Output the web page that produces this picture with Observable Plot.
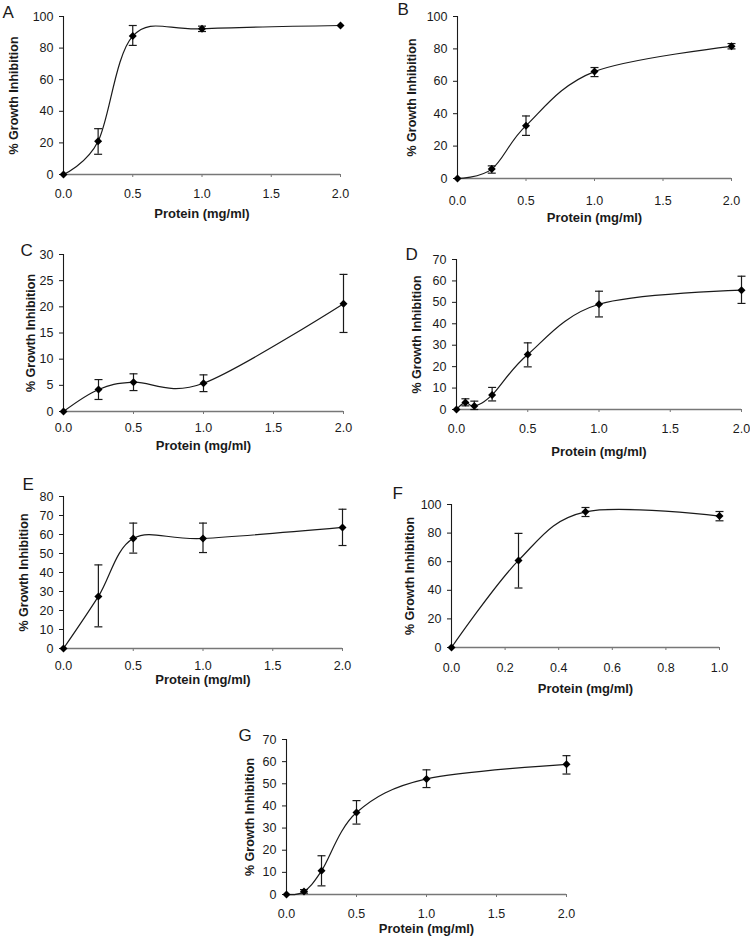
<!DOCTYPE html>
<html><head><meta charset="utf-8">
<script src="https://cdn.jsdelivr.net/npm/d3@7"></script>
<script src="https://cdn.jsdelivr.net/npm/@observablehq/plot@0.6"></script>
<style>
body{margin:0;background:#fff;}
#root{position:relative;width:750px;height:940px;overflow:hidden;background:#fff;}
.panel{position:absolute;}
</style></head><body><div id="root"></div>
<script>
// ---------- text ----------
const xLabel = "Protein (mg/ml)";
const yLabel = "% Growth Inhibition";
const panelLetters = ["A", "B", "C", "D", "E", "F", "G"];

// ---------- data (dose mg/ml, mean % inhibition, error low, error high) ----------
const aDose = [0, 0.25, 0.5, 1, 2];
const aMean = [0, 21, 87.6, 92.2, 94.3];
const aLow  = [null, 12.8, 81.7, 90.5, null];
const aHigh = [null, 29, 94.3, 93.9, null];

const bDose = [0, 0.25, 0.5, 1, 2];
const bMean = [0, 5.8, 32.6, 66, 81.6];
const bLow  = [null, 3.3, 26.6, 62.9, 80];
const bHigh = [null, 7.8, 38.6, 68.5, 83.3];

const cDose = [0, 0.25, 0.5, 1, 2];
const cMean = [0, 4.2, 5.6, 5.4, 20.6];
const cLow  = [null, 2.3, 4.0, 3.8, 15.1];
const cHigh = [null, 6.1, 7.2, 7.0, 26.2];

const dDose = [0, 0.0625, 0.125, 0.25, 0.5, 1, 2];
const dMean = [0, 3.3, 1.6, 6.8, 25.7, 49.1, 55.7];
const dLow  = [null, 1.7, 0, 4.0, 19.9, 43.2, 49.5];
const dHigh = [null, 5.0, 3.9, 10.3, 31.1, 55.2, 62.2];

const eDose = [0, 0.25, 0.5, 1, 2];
const eMean = [0, 27.4, 57.9, 57.9, 63.7];
const eLow  = [null, 11.4, 50.2, 50.5, 54.2];
const eHigh = [null, 44, 66, 66, 73.3];

const fDose = [0, 0.25, 0.5, 1];
const fMean = [0, 60.9, 94.9, 91.9];
const fLow  = [null, 41.6, 91.6, 88.6];
const fHigh = [null, 79.8, 97.9, 95.1];

const gDose = [0, 0.125, 0.25, 0.5, 1, 2];
const gMean = [0, 1.4, 10.7, 37, 52.2, 58.8];
const gLow  = [null, 0.6, 3.9, 31.8, 48.3, 54.4];
const gHigh = [null, 2.2, 17.5, 42.4, 56.3, 62.7];

// ---------- axis ticks ----------
const xTicks2 = [0, 0.5, 1, 1.5, 2];
const xTicks1 = [0, 0.2, 0.4, 0.6, 0.8, 1];
const yTicksA = [0, 20, 40, 60, 80, 100];
const yTicksC = [0, 5, 10, 15, 20, 25, 30];
const yTicksD = [0, 10, 20, 30, 40, 50, 60, 70];
const yTicksE = [0, 10, 20, 30, 40, 50, 60, 70, 80];

function rows(dose, mean, low, high) {
  return dose.map((d, i) => ({dose: d, mean: mean[i], low: low[i], high: high[i]}));
}

const series = [
  rows(aDose, aMean, aLow, aHigh),
  rows(bDose, bMean, bLow, bHigh),
  rows(cDose, cMean, cLow, cHigh),
  rows(dDose, dMean, dLow, dHigh),
  rows(eDose, eMean, eLow, eHigh),
  rows(fDose, fMean, fLow, fHigh),
  rows(gDose, gMean, gLow, gHigh)
];
const xTickSets = [xTicks2, xTicks2, xTicks2, xTicks2, xTicks2, xTicks1, xTicks2];
const yTickSets = [yTicksA, yTicksA, yTicksC, yTicksD, yTicksE, yTicksA, yTicksD];

// ---------- layout (page pixels) ----------
const layout = [
  {svg: [0, 0, 375, 225],     frame: [63, 340, 16, 174],  tickY: 193, xLab: 217, yLab: 13,  letter: [2, 5]},
  {svg: [375, 0, 375, 230],   frame: [457, 731, 16, 178], tickY: 200, xLab: 221, yLab: 411, letter: [397, 2]},
  {svg: [0, 225, 375, 230],   frame: [63, 343, 254, 411], tickY: 427, xLab: 449, yLab: 30,  letter: [20, 243]},
  {svg: [375, 230, 375, 230], frame: [456, 741, 259, 409], tickY: 428, xLab: 455, yLab: 416, letter: [405, 247]},
  {svg: [0, 455, 375, 240],   frame: [63, 342, 496, 648], tickY: 665, xLab: 683, yLab: 23,  letter: [22, 477]},
  {svg: [375, 460, 375, 240], frame: [451, 719, 504, 647], tickY: 667, xLab: 692, yLab: 409, letter: [392, 486]},
  {svg: [190, 700, 400, 240], frame: [286, 566, 739, 894], tickY: 913, xLab: 932, yLab: 249, letter: [238, 728]}
];

const FONT = "'Liberation Sans', Arial, Helvetica, sans-serif";
const INK = "#1a1a1a";

// error-bar cap symbol: short horizontal stroke
const cap = {
  draw(context, size) {
    const r = Math.sqrt(size / Math.PI);
    context.moveTo(-r, 0);
    context.lineTo(r, 0);
  }
};

const root = document.getElementById("root");

series.forEach((data, k) => {
  const L = layout[k];
  const [sl, st, sw, sh] = L.svg;
  const [fx0, fx1, fy0, fy1] = L.frame;
  const xt = xTickSets[k];
  const yt = yTickSets[k];
  const err = data.filter(d => d.low != null && d.high != null);
  const tickLabelOffset = (L.tickY - fy1) - 3 - 4.5;

  const chart = Plot.plot({
    width: sw,
    height: sh,
    marginLeft: fx0 - sl,
    marginRight: sl + sw - fx1,
    marginTop: fy0 - st,
    marginBottom: st + sh - fy1,
    style: {fontFamily: FONT, fontSize: "12.5px", color: INK, background: "transparent", overflow: "visible"},
    x: {domain: [xt[0], xt[xt.length - 1]]},
    y: {domain: [yt[0], yt[yt.length - 1]]},
    marks: [
      Plot.axisX({ticks: xt, tickFormat: d3.format(".1f"), tickSize: 3, tickPadding: tickLabelOffset,
                  stroke: "#777", fill: INK, label: null}),
      Plot.axisY({ticks: yt, tickFormat: d3.format("d"), tickSize: 4, tickPadding: 6,
                  stroke: INK, fill: INK, label: null}),
      Plot.ruleY([yt[0]], {stroke: "#777", strokeWidth: 1.3}),
      Plot.ruleX([xt[0]], {stroke: INK, strokeWidth: 1.1}),
      Plot.ruleX(err, {x: "dose", y1: "low", y2: "high", stroke: INK, strokeWidth: 1.2}),
      Plot.dot(err, {x: "dose", y: "high", symbol: cap, r: 4, stroke: INK, strokeWidth: 1.2, fill: "none"}),
      Plot.dot(err, {x: "dose", y: "low", symbol: cap, r: 4, stroke: INK, strokeWidth: 1.2, fill: "none"}),
      Plot.line(data, {x: "dose", y: "mean", curve: d3.curveCatmullRom.alpha(0), stroke: INK, strokeWidth: 1.2}),
      Plot.dot(data, {x: "dose", y: "mean", symbol: "diamond2", r: 3.6, fill: "#000", stroke: "none"}),
      Plot.text([xLabel], {frameAnchor: "bottom", textAnchor: "middle", dy: L.xLab - fy1, fontWeight: "bold", fontSize: 13, fill: INK}),
      Plot.text([yLabel], {frameAnchor: "left", textAnchor: "middle", lineAnchor: "middle", rotate: -90,
                 dx: L.yLab - fx0, fontWeight: "bold", fontSize: 12.5, fill: INK}),
      Plot.text([panelLetters[k]], {frameAnchor: "top-left", textAnchor: "start", lineAnchor: "top",
                 dx: L.letter[0] - fx0, dy: L.letter[1] - fy0, fontSize: 17, fill: INK})
    ]
  });

  const div = document.createElement("div");
  div.className = "panel";
  div.style.left = sl + "px";
  div.style.top = st + "px";
  div.style.width = sw + "px";
  div.style.height = sh + "px";
  div.appendChild(chart);
  root.appendChild(div);
});
</script>
</body></html>
